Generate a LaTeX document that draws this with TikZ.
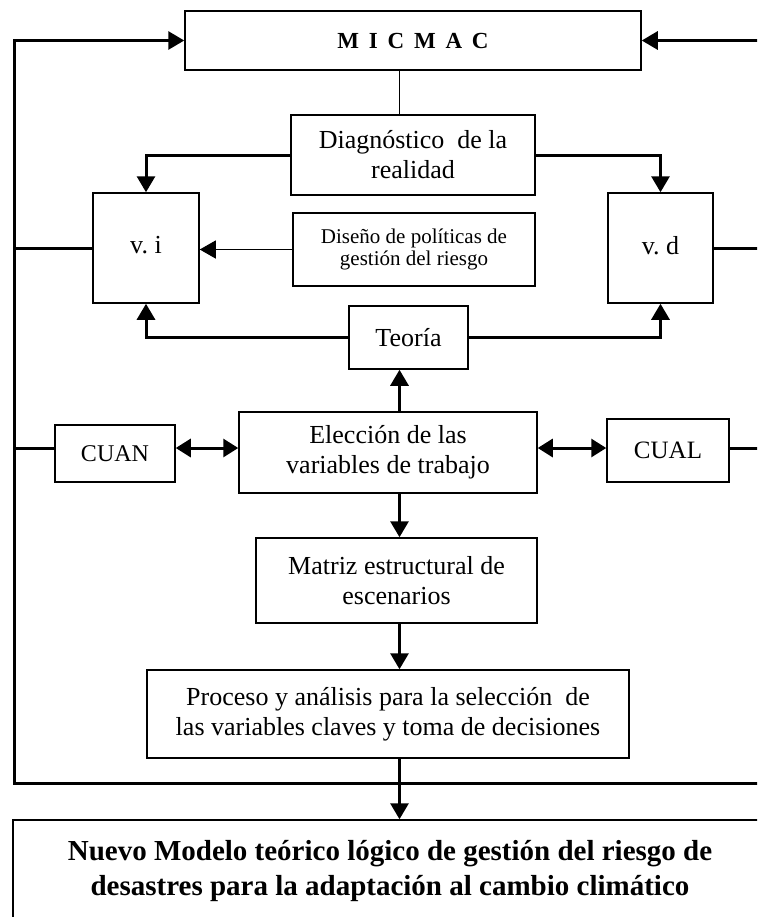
\documentclass[tikz,border=0pt]{standalone}
\usepackage{fontspec}
\setmainfont{Liberation Serif}
\usetikzlibrary{arrows.meta,positioning}

\tikzset{
  caja/.style={draw, line width=0.75pt, align=center, inner sep=2pt, font=\fontsize{13}{15}\selectfont},
  linea/.style={line width=1.5pt, line join=miter},
  flecha/.style={linea, -{Triangle[length=8pt,width=9pt]}},
  doble/.style={linea, {Triangle[length=7.5pt,width=9pt]}-{Triangle[length=7.5pt,width=9pt]}},
}

\begin{document}
\begin{tikzpicture}[x=0.5pt, y=-0.5pt]
  \useasboundingbox (0,0) rectangle (757,917);
  \clip (0,0) rectangle (757,917);
  % ejes auxiliares
  \coordinate (izq) at (14,0);
  \coordinate (borde) at (775,0);
  \coordinate (eje) at (399.5,0);
  \coordinate (fila) at (0,448);
  \coordinate (base) at (0,783);

  % cajas
  \node[caja, minimum width=228pt, minimum height=29.5pt, font=\bfseries\fontsize{11.5}{14}\selectfont] (micmac) at (413,40.5)
    {M\kern4.9pt I\kern4.9pt C\kern4.9pt M\kern4.9pt A\kern4.9pt C};
  \node[caja, minimum width=122pt, minimum height=40pt] (diag) at (413,155) {Diagnóstico~ de la\\realidad};
  \node[caja, minimum width=53pt, minimum height=55pt] (vi) at (146,248) {\raisebox{3pt}{v.\ i}};
  \node[caja, minimum width=52.5pt, minimum height=55pt] (vd) at (660.5,248) {\raisebox{3pt}{v.\ d}};
  \node[caja, minimum width=121pt, minimum height=36.5pt, font=\fontsize{10.5}{11}\selectfont] (diseno) at (414,249.5)
    {Diseño de políticas de\\gestión del riesgo};
  \node[caja, minimum width=59.5pt, minimum height=31.5pt] (teoria) at (408.5,337.5) {Teoría};
  \node[caja, minimum width=149pt, minimum height=40.5pt] (eleccion) at (388,452.5) {Elección de las\\variables de trabajo};
  \node[caja, minimum width=60pt, minimum height=28.5pt, font=\fontsize{12}{14}\selectfont] (cuan) at (115,453.5) {CUAN};
  \node[caja, minimum width=61pt, minimum height=31.5pt, font=\fontsize{12.5}{14}\selectfont] (cual) at (668,450.5) {CUAL};
  \node[caja, minimum width=140.5pt, minimum height=42.5pt] (matriz) at (396.5,580.5) {Matriz estructural de\\escenarios};
  \node[caja, minimum width=241pt, minimum height=44pt] (proceso) at (388,714)
    {Proceso y análisis para la selección~ de\\las variables claves y toma de decisiones};
  \node[caja, minimum width=377pt, minimum height=51pt, font=\bfseries\fontsize{14.5}{17.5}\selectfont] (final) at (390,871)
    {Nuevo Modelo teórico lógico de gestión del riesgo de\\desastres para la adaptación al cambio climático};

  % conexiones
  \draw[flecha] (borde |- base) -- (izq |- base) -- (izq |- micmac.west) -- (micmac.west);
  \draw[flecha] (borde |- micmac.east) -- (micmac.east);
  \draw[line width=0.75pt] (micmac.south -| eje) -- (diag.north -| eje);
  \draw[flecha] (diag.west) -| (vi.north);
  \draw[flecha] (diag.east) -| (vd.north);
  \draw[line width=0.6pt, -{Triangle[length=8pt,width=9pt]}] (diseno.west) -- (vi.east |- diseno.west);
  \draw[flecha] (teoria.west) -| (vi.south);
  \draw[flecha] (teoria.east) -| (vd.south);
  \draw[linea] (izq |- vi.west) -- (vi.west);
  \draw[linea] (vd.east) -- (borde |- vd.east);
  \draw[flecha] (eleccion.north -| eje) -- (teoria.south -| eje);
  \draw[linea] (izq |- fila) -- (cuan.west |- fila);
  \draw[doble] (cuan.east |- fila) -- (eleccion.west |- fila);
  \draw[doble] (eleccion.east |- fila) -- (cual.west |- fila);
  \draw[linea] (cual.east |- fila) -- (borde |- fila);
  \draw[flecha] (eleccion.south -| eje) -- (matriz.north -| eje);
  \draw[flecha] (matriz.south -| eje) -- (proceso.north -| eje);
  \draw[flecha] (proceso.south -| eje) -- (final.north -| eje);
\end{tikzpicture}
\end{document}
